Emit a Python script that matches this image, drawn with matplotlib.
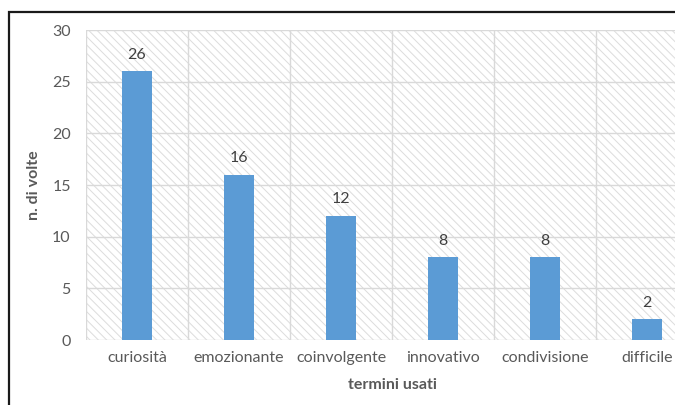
import matplotlib.pyplot as plt
from matplotlib.patches import Rectangle
import numpy as np

# Dati
termini = ['curiosità', 'emozionante', 'coinvolgente', 'innovativo', 'condivisione', 'difficile']
n_volte = [26, 16, 12, 8, 8, 2]
yticks = [0, 5, 10, 15, 20, 25, 30]

plt.rcParams['font.family'] = ['Lato', 'DejaVu Sans']
plt.rcParams['hatch.linewidth'] = 0.7

grigio = '#d9d9d9'
testo = '#595959'
fs = 11.5

fig = plt.figure(figsize=(6.75, 4.05), dpi=100)
ax = fig.add_axes([86 / 675, 65 / 405, 612 / 675, 310 / 405])

# Sfondo tratteggiato dell'area del grafico
ax.add_patch(Rectangle((0, 0), 1, 1, transform=ax.transAxes, facecolor='white',
                       edgecolor='#dcdcdc', hatch='\\\\\\\\', linewidth=0, zorder=0))

x = np.arange(len(termini))
ax.bar(x, n_volte, width=0.29, color='#5b9bd5', zorder=3)

for xi, v in zip(x, n_volte):
    ax.annotate(str(v), (xi, v), xytext=(0, 7), textcoords='offset points',
                ha='center', va='bottom', fontsize=fs, color='#404040')

ax.set_xlim(-0.5, len(termini) - 0.5)
ax.set_ylim(0, 30)
ax.set_yticks(yticks)
ax.set_xticks(x)
ax.set_xticklabels(termini)
ax.tick_params(axis='both', length=0, labelsize=fs, labelcolor=testo)
ax.tick_params(axis='y', pad=11)
ax.tick_params(axis='x', pad=8)

# Griglia: orizzontale sui valori, verticale tra le categorie
for yv in yticks:
    ax.axhline(yv, color=grigio, linewidth=1, zorder=1)
for b in np.arange(-0.5, len(termini), 1):
    ax.axvline(b, color=grigio, linewidth=1, zorder=1)

for s in ax.spines.values():
    s.set_visible(False)

ax.set_ylabel('n. di volte', fontsize=fs, fontweight='bold', color=testo, labelpad=8)
fig.text(392 / 675, 1 - 385 / 405, 'termini usati', ha='center', va='center',
         fontsize=fs, fontweight='bold', color=testo)

# Cornice esterna
fig.patches.append(Rectangle((9 / 675, -0.1), 1.2, 1 - 12 / 405 + 0.1, transform=fig.transFigure,
                             fill=False, edgecolor='#1a1a1a', linewidth=1.6, zorder=10))

fig.savefig('out.png', dpi=100)
